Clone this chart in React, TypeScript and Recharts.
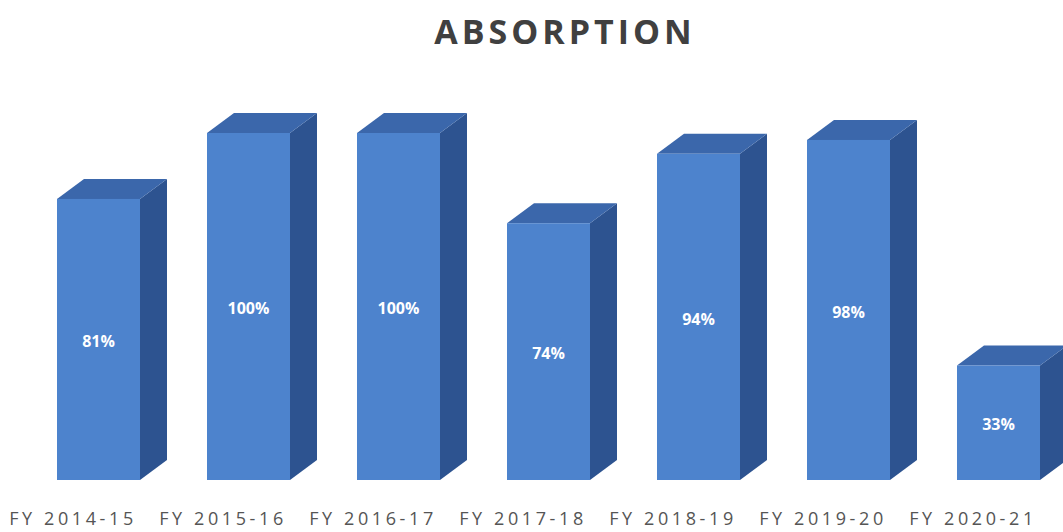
import { BarChart, Bar, XAxis, YAxis, LabelList } from 'recharts';

const years = ['FY 2014-15', 'FY 2015-16', 'FY 2016-17', 'FY 2017-18', 'FY 2018-19', 'FY 2019-20', 'FY 2020-21'];
const absorption = [81, 100, 100, 74, 94, 98, 33];

const data = years.map((year, i) => ({ year, value: absorption[i] }));

const DX = 27;
const DY = 20;

// front face + right side + top, like the old office 3D column
function Box3D(props: any) {
  const { x, y, width, height } = props;
  const r = x + width;
  const b = y + height;
  return (
    <g>
      <polygon
        points={`${r},${y} ${r + DX},${y - DY} ${r + DX},${b - DY} ${r},${b}`}
        fill="#2d5390"
      />
      <polygon
        points={`${x},${y} ${x + DX},${y - DY} ${r + DX},${y - DY} ${r},${y}`}
        fill="#3b67ab"
      />
      <rect x={x} y={y} width={width} height={height} fill="#4d83cd" />
    </g>
  );
}

function YearTick(props: any) {
  const { x, payload } = props;
  return (
    <text
      x={x - 25}
      y={525}
      textAnchor="middle"
      fill="#555"
      fontSize={18}
      letterSpacing={3.6}
      fontFamily="'Open Sans', sans-serif"
    >
      {payload.value}
    </text>
  );
}

export default function App() {
  return (
    <div style={{ position: 'absolute', left: 0, top: 0, width: 1063, height: 532, overflow: 'hidden', background: '#fff' }}>
      <div
        style={{
          position: 'absolute',
          top: 8,
          left: 0,
          width: 1130,
          textAlign: 'center',
          fontFamily: "'Open Sans', sans-serif",
          fontWeight: 700,
          fontSize: 34,
          letterSpacing: 4,
          color: '#404040',
        }}
      >
        ABSORPTION
      </div>
      <BarChart width={1100} height={532} data={data} margin={{ top: 133, right: 27, bottom: 0, left: 23 }}>
        <XAxis dataKey="year" height={52} axisLine={false} tickLine={false} tick={<YearTick />} interval={0} />
        <YAxis domain={[0, 100]} hide />
        <Bar dataKey="value" barSize={83} shape={<Box3D />} isAnimationActive={false}>
          <LabelList
            dataKey="value"
            position="center"
            formatter={(v: any) => `${v}%`}
            fill="#ffffff"
            fontSize={16}
            fontWeight={700}
            fontFamily="'Open Sans', sans-serif"
            dy={2}
          />
        </Bar>
      </BarChart>
    </div>
  );
}
